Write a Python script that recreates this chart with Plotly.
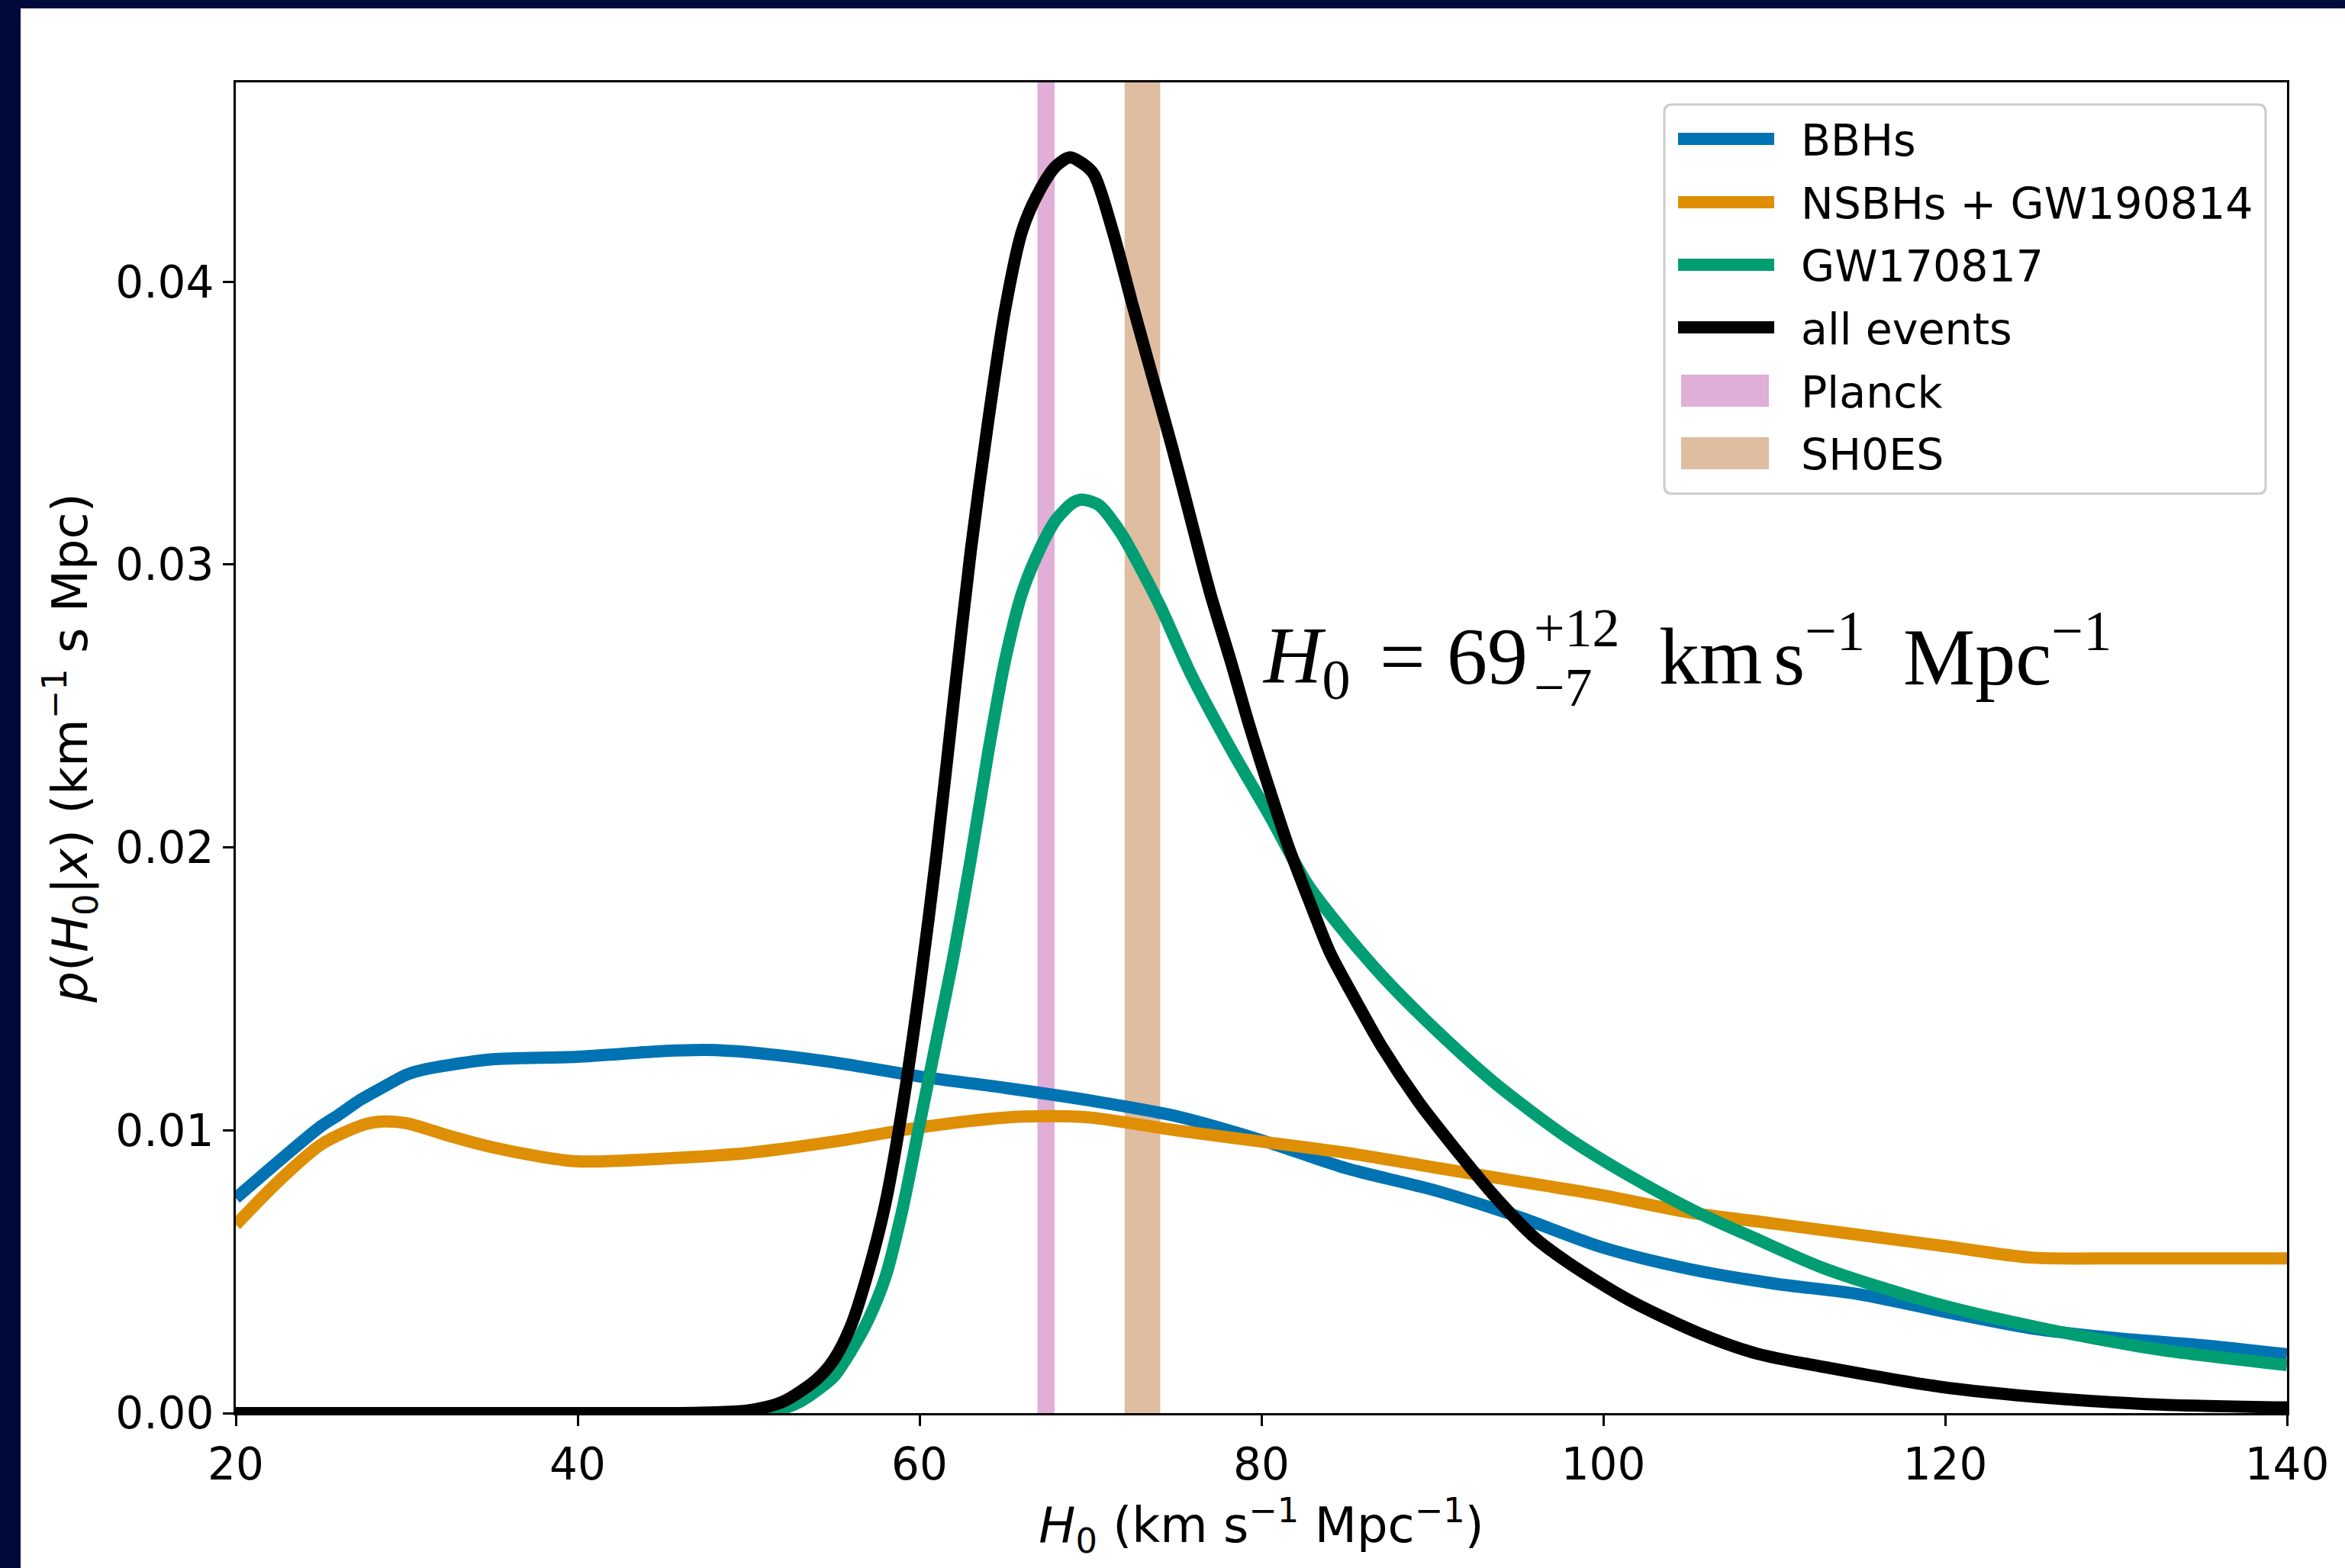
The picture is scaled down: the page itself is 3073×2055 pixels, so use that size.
import plotly.graph_objects as go

# ---------------- data ----------------
bbh_h0 = [20, 22.5, 25, 26, 27.3, 28.6, 30, 31.1, 32.4, 35, 40, 45, 47.5, 50, 55, 60, 65, 70, 75, 80,
          85, 90, 95, 100, 105, 110, 115, 120, 125, 130, 135, 140]
bbh_p = [0.0076, 0.0089, 0.01015, 0.01054, 0.01108, 0.01152, 0.01197, 0.01216, 0.0123, 0.01251,
         0.01260, 0.01280, 0.01284, 0.01276, 0.01240, 0.01190, 0.01150, 0.01105, 0.01050, 0.00965,
         0.00865, 0.00790, 0.00695, 0.00585, 0.00510, 0.00458, 0.00420, 0.00358, 0.00300, 0.00265,
         0.00240, 0.00208]

nsbh_h0 = [20, 22.5, 25, 27.5, 28.6, 30, 32.5, 35, 37.5, 40, 45, 50, 55, 60, 65, 67.5, 70, 75, 80,
           85, 90, 95, 100, 105, 110, 115, 120, 125, 130, 135, 140]
nsbh_p = [0.00666, 0.0082, 0.0095, 0.0102, 0.01031, 0.01025, 0.0098, 0.0094, 0.0091, 0.0089, 0.0090,
          0.0092, 0.0096, 0.0101, 0.01045, 0.0105, 0.01045, 0.0100, 0.0096, 0.0092, 0.0087, 0.0082,
          0.0077, 0.0071, 0.0067, 0.0063, 0.0059, 0.0055, 0.00547, 0.00547, 0.00547]

gw170817_h0 = [20, 30, 40, 48, 50, 52, 53, 54, 55, 56, 57, 58, 59, 60, 61, 62, 63, 64, 65, 66, 67,
               68, 69, 69.5, 70.5, 71.8, 73, 74.1, 75.9, 78.2, 80.5, 82.7, 85, 87, 89.6, 93.6, 98,
               101.5, 105.5, 108.8, 113, 119.6, 126, 132.6, 140]
gw170817_p = [0.0, 0.0, 0.0, 0.0, 0.00003, 0.00016, 0.0004, 0.0008, 0.0013, 0.0022, 0.0033, 0.0048,
              0.0072, 0.0102, 0.0132, 0.0162, 0.0196, 0.0233, 0.0266, 0.0290, 0.0305, 0.0316,
              0.0322, 0.0323, 0.0321, 0.0311, 0.0298, 0.0285, 0.0261, 0.0235, 0.0211, 0.0187,
              0.0169, 0.0155, 0.0139, 0.0117, 0.0097, 0.0084, 0.0071, 0.0062, 0.0051, 0.00385,
              0.00296, 0.00224, 0.0017]

all_h0 = [20, 30, 40, 45, 48, 50, 52, 54, 55, 56, 57, 58, 59, 60, 61, 62, 63, 64, 65, 66, 67, 68,
          68.8, 69.5, 70.2, 71.3, 72.5, 73.6, 74.8, 76, 77, 78.2, 79.3, 80.5, 81.6, 83, 84, 85.6,
          87, 89.2, 91, 93.6, 96, 98, 101.5, 105.5, 109, 113, 119.6, 126, 132.6, 140]
all_p = [0.0, 0.0, 0.0, 0.0, 0.00003, 0.0001, 0.0004, 0.0012, 0.0019, 0.0031, 0.0050, 0.0074,
         0.0108, 0.0150, 0.0198, 0.0252, 0.0305, 0.0350, 0.0390, 0.0418, 0.0432, 0.0441, 0.0444,
         0.0442, 0.0438, 0.0418, 0.0391, 0.0367, 0.0341, 0.0313, 0.0290, 0.0266, 0.0243, 0.0220,
         0.0200, 0.0178, 0.0163, 0.0145, 0.0130, 0.0110, 0.0096, 0.0077, 0.0062, 0.0053, 0.0040,
         0.00285, 0.0021, 0.00162, 0.00094, 0.00054, 0.0003, 0.0002]

planck_h0, planck_err = 67.4, 0.5
shoes_h0, shoes_err = 73.04, 1.04

x_ticks = [20, 40, 60, 80, 100, 120, 140]
y_ticks = [0.00, 0.01, 0.02, 0.03, 0.04]

line_names = ["BBHs", "NSBHs + GW190814", "GW170817", "all events"]
line_x = [bbh_h0, nsbh_h0, gw170817_h0, all_h0]
line_y = [bbh_p, nsbh_p, gw170817_p, all_p]
line_colors = ["#0173b2", "#de8f05", "#029e73", "#000000"]

band_names = ["Planck", "SH0ES"]
band_centers = [planck_h0, shoes_h0]
band_errs = [planck_err, shoes_err]
band_colors = ["rgba(204,120,188,0.6)", "rgba(202,145,97,0.6)"]

# ---------------- layout geometry ----------------
W, H = 3073, 2055
L, R, T, B = 309, 2997, 108, 1852
PW, PH = R - L, B - T


def px_x(px):
    return (px - L) / PW


def px_y(py):
    return (B - py) / PH


FONT = "DejaVu Sans"
fig = go.Figure()

for name, xs, ys, col in zip(line_names, line_x, line_y, line_colors):
    fig.add_trace(go.Scatter(
        x=xs, y=ys, mode="lines", name=name, showlegend=False,
        line=dict(color=col, width=16, shape="spline", smoothing=0.8),
    ))

for name, c, e, col in zip(band_names, band_centers, band_errs, band_colors):
    fig.add_shape(type="rect", xref="x", yref="paper", x0=c - e, x1=c + e, y0=0, y1=1,
                  fillcolor=col, line=dict(width=0), layer="below", name=name)

# ---------------- legend (drawn by hand, matplotlib style) ----------------
lx0, lx1, ly0, ly1, rr = 2181, 2969, 137, 647, 10
pts = [
    ("M", lx0 + rr, ly0), ("L", lx1 - rr, ly0), ("Q", lx1, ly0, lx1, ly0 + rr),
    ("L", lx1, ly1 - rr), ("Q", lx1, ly1, lx1 - rr, ly1), ("L", lx0 + rr, ly1),
    ("Q", lx0, ly1, lx0, ly1 - rr), ("L", lx0, ly0 + rr), ("Q", lx0, ly0, lx0 + rr, ly0),
]
path = ""
for p in pts:
    cmd, coords = p[0], p[1:]
    vals = []
    for i in range(0, len(coords), 2):
        vals.append(f"{px_x(coords[i]):.6f},{px_y(coords[i + 1]):.6f}")
    path += cmd + " ".join(vals) + " "
path += "Z"
fig.add_shape(type="path", xref="paper", yref="paper", path=path,
              fillcolor="rgba(255,255,255,0.8)", line=dict(color="#cccccc", width=3), layer="above")

row_y = [182, 265, 347, 429, 512, 594]
legend_labels = line_names + band_names
for i, col in enumerate(line_colors):
    fig.add_shape(type="line", xref="paper", yref="paper", x0=px_x(2199), x1=px_x(2325),
                  y0=px_y(row_y[i]), y1=px_y(row_y[i]), line=dict(color=col, width=16),
                  layer="above")
for j, col in enumerate(band_colors):
    cy = row_y[4 + j]
    fig.add_shape(type="rect", xref="paper", yref="paper", x0=px_x(2203), x1=px_x(2318),
                  y0=px_y(cy + 21), y1=px_y(cy - 21), fillcolor=col, line=dict(width=0),
                  layer="above")
for i, lab in enumerate(legend_labels):
    fig.add_annotation(xref="paper", yref="paper", x=px_x(2358), y=px_y(row_y[i] + 2),
                       xanchor="left", yanchor="middle", showarrow=False, text=lab,
                       font=dict(family=FONT, size=57, color="black"))

# navy frame strips (left and top)
navy = "rgb(0,10,58)"
fig.add_shape(type="rect", xref="paper", yref="paper", x0=px_x(0), x1=px_x(27),
              y0=px_y(H), y1=px_y(0), fillcolor=navy, line=dict(width=0), layer="above")
fig.add_shape(type="rect", xref="paper", yref="paper", x0=px_x(0), x1=px_x(W),
              y0=px_y(11), y1=px_y(0), fillcolor=navy, line=dict(width=0), layer="above")

# H0 annotation, built from pieces (stacked scripts)
serif = "Liberation Serif"
pieces = [
    ("<i>H</i><sub>0</sub>", 1652, 866, 106, "left"),
    ("=", 1838, 861, 106, "center"),
    ("69", 1894, 861, 106, "left"),
    ("+12", 2008, 823, 72, "left"),
    ("−7", 2008, 901, 72, "left"),
    ("km", 2172, 861, 106, "left"),
    ("s<sup>−1</sup>", 2322, 853, 106, "left"),
    ("Mpc<sup>−1</sup>", 2492, 853, 106, "left"),
]
for txt, x, y, fs, anc in pieces:
    fig.add_annotation(xref="paper", yref="paper", x=px_x(x), y=px_y(y), xanchor=anc,
                       yanchor="middle", showarrow=False, text=txt,
                       font=dict(family=serif, size=fs, color="black"))

axis_common = dict(
    showline=True, linecolor="black", linewidth=3, mirror=True,
    ticks="outside", ticklen=14, tickwidth=3, tickcolor="black",
    showgrid=False, zeroline=False,
    tickfont=dict(family=FONT, size=58, color="black"),
)

fig.update_xaxes(range=[20, 140], tickvals=x_ticks, ticktext=[str(v) for v in x_ticks],
                 title=dict(text="<i>H</i><sub>0</sub> (km s<sup>−1</sup> Mpc<sup>−1</sup>)",
                            font=dict(family=FONT, size=64, color="black"), standoff=6),
                 **axis_common)
fig.update_yaxes(range=[0, 0.04705], tickvals=y_ticks, ticktext=[f"{v:.2f}" for v in y_ticks],
                 title=dict(text="<i>p</i>(<i>H</i><sub>0</sub>|<i>x</i>) (km<sup>−1</sup> s Mpc)",
                            font=dict(family=FONT, size=64, color="black"), standoff=16),
                 **axis_common)

fig.update_layout(
    width=W, height=H,
    margin=dict(l=L, r=W - R, t=T, b=H - B, autoexpand=False),
    paper_bgcolor="white", plot_bgcolor="white",
    font=dict(family=FONT, color="black"),
    showlegend=False,
)

fig.write_html("out.html", config={"displayModeBar": False},
               post_script="document.body.style.margin='0px';document.body.style.padding='0px';")
